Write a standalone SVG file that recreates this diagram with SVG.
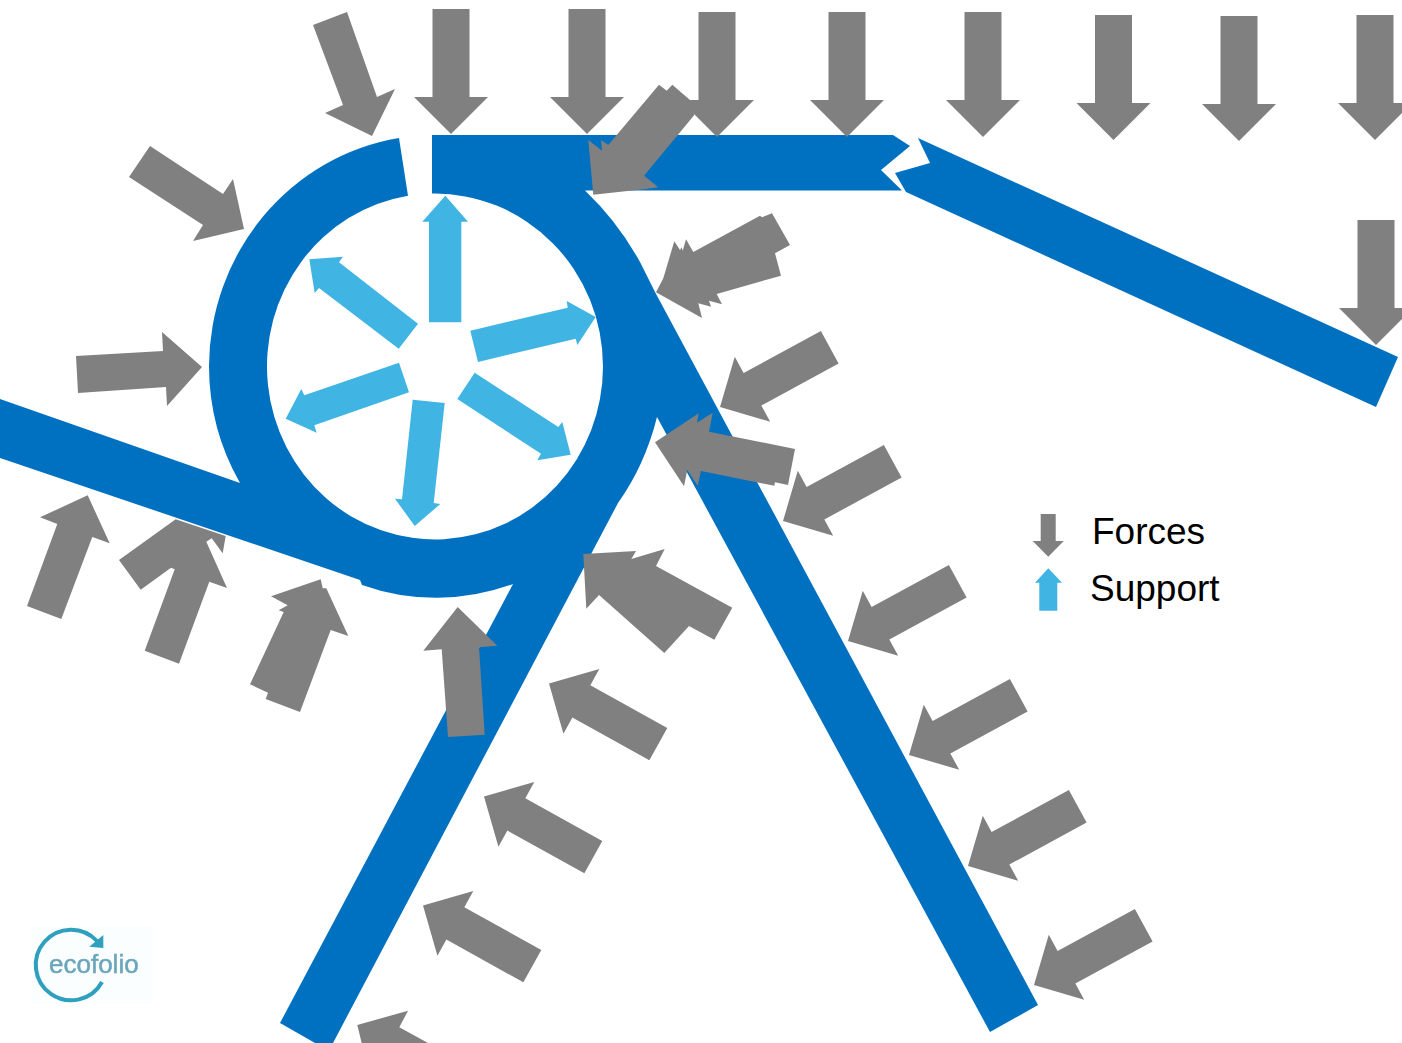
<svg xmlns="http://www.w3.org/2000/svg" width="1402" height="1043" viewBox="0 0 1402 1043">
<style>
.force{fill:#808080}
.support{fill:#40b4e3}
.beam{fill:#0071c1}
.label{font-family:"Liberation Sans",Arial,sans-serif;font-size:37px;fill:#000}
</style>
<defs>
<filter id="soft" x="-5%" y="-5%" width="110%" height="110%"><feGaussianBlur stdDeviation="0.6"/></filter>
<polygon id="f" class="force" points="-18.5,-125 18.5,-125 18.5,-37 37,-37 0,0 -37,-37 -18.5,-37"/>
</defs>
<rect width="1402" height="1043" fill="#fff"/>

<g id="structure">
<path id="frame" class="beam" d="M399,138A226 232 0 0 0 209,366A226 232 0 0 0 240,483L0,399L0,458L360,580L362,585A226 232 0 0 0 513,584L280,1023L315,1043L333,1043L618,503Q645,465 657,417L990,1032L1038,1005L655,292L640,262Q618,222 585,190.500L902,190.500L881,170L910,146L893,135L432,135L432,193.600A168 173 0 0 1 603,366.500A168 173 0 1 1 408,195.700Z"/>
<polygon id="roof-right" class="beam" points="918,138 930,163 895,173 906,192 1376,407 1398,357"/>
</g>

<g id="forces">
<use href="#f" transform="translate(451,134)"/>
<use href="#f" transform="translate(587,134)"/>
<use href="#f" transform="translate(717,137)"/>
<use href="#f" transform="translate(847,137)"/>
<use href="#f" transform="translate(983,137)"/>
<use href="#f" transform="translate(1113.500,140)"/>
<use href="#f" transform="translate(1239,141)"/>
<use href="#f" transform="translate(1375,140)"/>
<use href="#f" transform="translate(1376,345)"/>

<use href="#f" transform="translate(1034,985) rotate(61.4)"/>
<use href="#f" transform="translate(968,866) rotate(61.4)"/>
<use href="#f" transform="translate(909,755) rotate(61.4)"/>
<use href="#f" transform="translate(848,641) rotate(61.4)"/>
<use href="#f" transform="translate(783,521) rotate(61.4)"/>
<use href="#f" transform="translate(720,407) rotate(61.4)"/>

<use href="#f" transform="translate(423,905.500) rotate(119)"/>
<use href="#f" transform="translate(484,796.500) rotate(119)"/>
<use href="#f" transform="translate(549,683.500) rotate(119)"/>
<polygon class="force" points="357.300,1025 408,1010.700 399.300,1027.300 428,1043 361.700,1043"/>

<polygon class="force" points="583.300,554 636,551 631.300,559 664.700,549 656,566 732.300,607.700 714.300,639.700 689,626 664.300,653 599,595 586.300,608.700"/>
<polygon class="force" points="655,442.300 698.700,413.300 697,422.700 712.700,412.700 709,431.700 795,449 788,485 775,482.300 774.300,485.700 701,471 697.700,485.700 687.300,470 684,486.300"/>
<polygon class="force" points="656,292.300 663.300,278.300 674.300,241.300 680,250 681.700,247.300 682.700,250.700 686,239.300 693.300,252 760,215.700 762,217.300 772,213.300 790,245 775,253.300 781,275.700 716.700,294 722,304.300 709,300.700 711,306.700 698.300,303.300 702,318"/>
<polygon class="force" points="593.300,194.700 588.300,140 602,150.700 601,140 608.300,145 659,84.700 666.700,90.700 672.300,84.700 690,100 694.300,115 644,175.700 658.300,187.300 646,189"/>

<polygon class="force" points="27,606 61.300,619 92.300,537 109.700,543.300 87.700,495.300 40,517.300 57.300,524"/>
<polygon class="force" points="119,560 175.700,519.300 225.700,536 222.700,553.300 211.700,538.300 206.300,541.700 227,588 209.300,581.700 179,663.700 144.700,650.700 174.700,569.300 171,567.700 140.700,589.700"/>
<polygon class="force" points="271,596.300 320.700,579.300 322.700,588.300 326.300,588.300 348.300,636 330.700,630 300,712 265.700,699 268,692.700 250,684.300 283.700,612 278.700,610.300 287.700,605.300"/>
<polygon class="force" points="423.300,650.700 457.700,607 497.300,645.700 479,647.300 484.700,734.700 448,737 441.700,649.300"/>

<polygon class="force" points="313,25 347,12 377,97 395,89 372,136 325,113 343,105"/>
<polygon class="force" points="129,177 150,146 223,194 233,179 244,229 193,241 203,225"/>
<polygon class="force" points="76,356 163,351 162,332 202,367 167,406 166,387 78,393"/>
</g>

<g id="supports">
<polygon class="support" points="429,322.300 461.300,322.300 461.300,221.700 468,221.700 445.300,195.700 422.300,221.700 429,221.700"/>
<polygon class="support" points="418,323.700 398.700,348.700 319,288 314.700,293 309.300,259.300 343,256.700 339,262.300"/>
<polygon class="support" points="470.300,330.700 567.700,307.700 566.700,301 595.700,317 577.300,345 575.700,338.700 478,362"/>
<polygon class="support" points="474.700,372.700 558.300,427 562.300,422 570.700,454.700 537.300,460.300 541,453.700 457.300,399"/>
<polygon class="support" points="412.700,399.700 444.700,403 433.700,503 440.300,504 414.700,526 395,498.700 402,499.300"/>
<polygon class="support" points="399,362.700 409,392.300 314.300,425.300 316.700,432.700 285.700,418.700 301.300,389 304.300,395.300"/>
</g>

<g id="legend">
<polygon class="force" points="1040.700,514 1055.700,514 1055.700,541 1063.700,541 1048.300,556.700 1032.700,541 1040.700,541"/>
<text class="label" x="1092" y="543.500">Forces</text>
<polygon class="support" points="1039.300,610.700 1057.300,610.700 1057.300,582.700 1062,582.700 1048.300,568.300 1035,582.700 1039.300,582.700"/>
<text class="label" x="1090" y="601">Support</text>
</g>

<g id="logo" filter="url(#soft)">
<rect x="31" y="926" width="122" height="78" fill="#fbfefe"/>
<path d="M97,941A35.300 35.300 0 1 0 102,982" fill="none" stroke="#2d9fbd" stroke-width="4"/>
<polygon points="103.300,935 103.300,948 89.300,946.700" fill="#2d9fbd"/>
<text x="49" y="972.700" font-family="'Liberation Sans',Arial,sans-serif" font-size="26" stroke="#6ba6ba" stroke-width="0.5" fill="#6ba6ba">ecofolio</text>
</g>
</svg>
